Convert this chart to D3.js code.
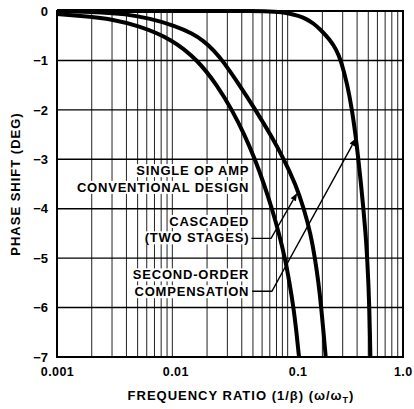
<!DOCTYPE html>
<html><head><meta charset="utf-8">
<script src="https://cdn.jsdelivr.net/npm/d3@7"></script>
<style>body{margin:0;background:#fff}svg{display:block}</style>
</head><body>
<svg id="chart" width="414" height="409"></svg>
<script>
// ---- data ----
const xTickValues = [0.001, 0.01, 0.1, 1.0];
const xTickLabels = ["0.001", "0.01", "0.1", "1.0"];
const yTickValues = [0, -1, -2, -3, -4, -5, -6, -7];
const yTickLabels = ["0", "\u22121", "\u22122", "\u22123", "\u22124", "\u22125", "\u22126", "\u22127"];

const singleFreq  = [0.001, 0.002, 0.003, 0.005, 0.01, 0.0167, 0.0244, 0.0329, 0.04225, 0.05208, 0.06235, 0.07313, 0.0841, 0.0948, 0.1038, 0.1124, 0.1193, 0.1254, 0.1292];
const singlePhase = [-0.06, -0.12, -0.17, -0.29, -0.57, -1.0, -1.5, -2.0, -2.5, -3.0, -3.5, -4.0, -4.5, -5.0, -5.5, -6.0, -6.5, -7.0, -7.3];

const cascadedFreq  = [0.001, 0.00236, 0.00389, 0.0064, 0.01055, 0.01481, 0.01863, 0.02298, 0.02723, 0.03823, 0.05261, 0.071, 0.09296, 0.1169, 0.1385, 0.1578, 0.1726, 0.1851, 0.1955, 0.2046, 0.2139, 0.2193];
const cascadedPhase = [0, -0.02, -0.06, -0.15, -0.3, -0.45, -0.6, -0.8, -1.0, -1.5, -2.0, -2.5, -3.0, -3.5, -4.0, -4.5, -5.0, -5.5, -6.0, -6.5, -7.0, -7.3];

const secondFreq  = [0.001, 0.02, 0.05, 0.08, 0.1, 0.125, 0.145, 0.166, 0.1946, 0.2328, 0.2624, 0.29, 0.3303, 0.3613, 0.3875, 0.4099, 0.4325, 0.4536, 0.474, 0.4893, 0.5012, 0.5103, 0.5164, 0.5215, 0.5246];
const secondPhase = [0, 0, 0, -0.01, -0.04, -0.1, -0.16, -0.243, -0.384, -0.587, -0.769, -1.0, -1.5, -2.0, -2.5, -3.0, -3.5, -4.0, -4.5, -5.0, -5.5, -6.0, -6.5, -7.0, -7.3];

const xTitle = "FREQUENCY RATIO (1/\u03B2) (\u03C9/\u03C9";
const xTitleSub = "T";
const yTitle = "PHASE SHIFT (DEG)";

const labelSingle = ["SINGLE OP AMP", "CONVENTIONAL DESIGN"];
const labelCascaded = ["CASCADED", "(TWO STAGES)"];
const labelSecond = ["SECOND-ORDER", "COMPENSATION"];

(function () {
const svg = d3.select("#chart");
const pL = 57, pR = 403, pT = 11, pB = 357;
const x = d3.scaleLog().domain([0.001, 1]).range([pL, pR]);
const y = d3.scaleLinear().domain([0, -7]).range([pT, pB]);
const FONT = "'Liberation Sans', Arial, Helvetica, sans-serif";

const vGrid = [];
[0.001, 0.01, 0.1].forEach(d => { for (let k = 1; k <= 9; k++) vGrid.push(d * k); });
vGrid.push(1.0);

const grid = svg.append("g");
grid.selectAll("line.v").data(vGrid).join("line").attr("class", "v")
  .attr("x1", d => x(d)).attr("x2", d => x(d))
  .attr("y1", pT).attr("y2", pB)
  .attr("stroke", "#222").attr("stroke-width", 1);
grid.selectAll("line.h").data(yTickValues).join("line").attr("class", "h")
  .attr("x1", pL).attr("x2", pR)
  .attr("y1", d => y(d)).attr("y2", d => y(d))
  .attr("stroke", "#000").attr("stroke-width", 1.4);

svg.append("rect").attr("x", pL).attr("y", pT)
  .attr("width", pR - pL).attr("height", pB - pT)
  .attr("fill", "none").attr("stroke", "#000").attr("stroke-width", 2);

const yAxis = d3.axisLeft(y).tickValues(yTickValues)
  .tickFormat((d, i) => yTickLabels[i]).tickSize(0).tickPadding(9);
const gy = svg.append("g").attr("transform", `translate(${pL},0)`).call(yAxis);
gy.select(".domain").remove();
gy.selectAll("text").attr("font-family", FONT).attr("font-weight", "bold")
  .attr("font-size", 13).attr("fill", "#000");

const xLabelShift = [0, 3, 10, 0];
const xAxis = d3.axisBottom(x).tickValues(xTickValues)
  .tickFormat((d, i) => xTickLabels[i]).tickSize(0).tickPadding(10);
const gx = svg.append("g").attr("transform", `translate(0,${pB})`).call(xAxis);
gx.select(".domain").remove();
gx.selectAll("text").attr("font-family", FONT).attr("font-weight", "bold")
  .attr("font-size", 12.5).attr("fill", "#000").attr("letter-spacing", 0.4)
  .attr("dx", (d, i) => xLabelShift[i]);
gx.selectAll("text").filter((d, i) => i === xTickValues.length - 1)
  .attr("text-anchor", "end").attr("dx", 0).attr("x", 412 - x(1.0));

const xt = svg.append("text").attr("x", 241).attr("y", 400)
  .attr("text-anchor", "middle").attr("font-family", FONT).attr("font-weight", "bold")
  .attr("font-size", 13).attr("letter-spacing", 1).text(xTitle);
xt.append("tspan").attr("font-size", 9).attr("dy", 3).text(xTitleSub);
xt.append("tspan").attr("dy", -3).text(")");

svg.append("text").attr("transform", "translate(20,184) rotate(-90)")
  .attr("text-anchor", "middle").attr("font-family", FONT).attr("font-weight", "bold")
  .attr("font-size", 13).attr("letter-spacing", 1).text(yTitle);

const clip = svg.append("clipPath").attr("id", "plotclip");
clip.append("rect").attr("x", pL).attr("y", pT - 3).attr("width", pR - pL).attr("height", pB - pT + 3);

const line = d3.line().x(d => x(d[0])).y(d => y(d[1])).curve(d3.curveBasis);
const series = [
  d3.zip(singleFreq, singlePhase),
  d3.zip(cascadedFreq, cascadedPhase),
  d3.zip(secondFreq, secondPhase)
];
svg.append("g").attr("clip-path", "url(#plotclip)")
  .selectAll("path").data(series).join("path")
  .attr("d", line).attr("fill", "none").attr("stroke", "#000")
  .attr("stroke-width", 4).attr("stroke-linejoin", "round");

const labelRight = x(0.0465);
function block(lines, phases) {
  const t = svg.append("g");
  lines.forEach((s, i) => {
    t.append("text").attr("x", labelRight).attr("y", y(phases[i]))
      .attr("text-anchor", "end").attr("font-family", FONT).attr("font-weight", "bold")
      .attr("font-size", 13).attr("letter-spacing", 0.8).text(s);
  });
  t.selectAll("text").each(function () {
    const b = this.getBBox();
    t.insert("rect", "text").attr("x", b.x - 1).attr("y", b.y + 1)
      .attr("width", b.width + 3).attr("height", b.height - 2).attr("fill", "#fff");
  });
}
block(labelSingle, [-3.32, -3.66]);
block(labelCascaded, [-4.35, -4.68]);
block(labelSecond, [-5.43, -5.77]);

function arrow(start, elbow, tip) {
  const p0 = [x(start[0]), y(start[1])], p1 = [x(elbow[0]), y(elbow[1])], p2 = [x(tip[0]), y(tip[1])];
  const ang = Math.atan2(p2[1] - p1[1], p2[0] - p1[0]);
  const L = 8, W = 3;
  const base = [p2[0] - L * Math.cos(ang), p2[1] - L * Math.sin(ang)];
  svg.append("path").attr("d", d3.line()([p0, p1, base]))
    .attr("fill", "none").attr("stroke", "#000").attr("stroke-width", 1.4);
  const nx = -Math.sin(ang), ny = Math.cos(ang);
  svg.append("path").attr("d", d3.line()([p2, [base[0] + W * nx, base[1] + W * ny], [base[0] - W * nx, base[1] - W * ny]]) + "Z")
    .attr("fill", "#000");
}
arrow([0.0485, -4.6], [0.0718, -4.6], [0.121, -3.68]);
arrow([0.0492, -5.67], [0.073, -5.67], [0.392, -2.57]);
})();
</script>
</body></html>
